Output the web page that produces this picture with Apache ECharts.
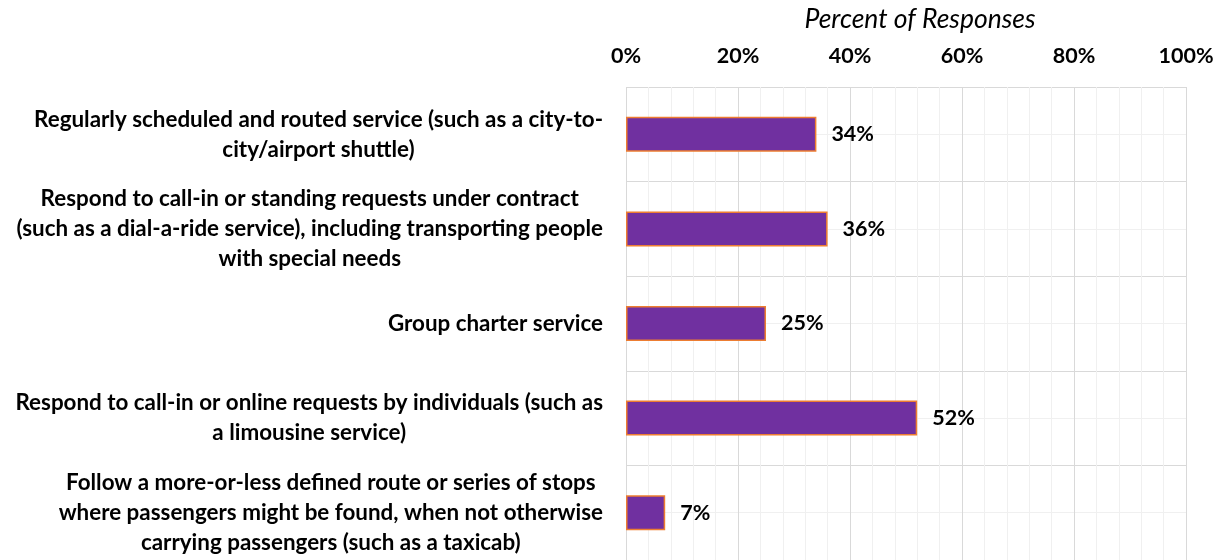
<!DOCTYPE html>
<html>
<head>
<meta charset="utf-8">
<script src="https://cdn.jsdelivr.net/npm/echarts@6/dist/echarts.min.js"></script>
<style>
  html, body { margin: 0; padding: 0; background: #ffffff; }
  #chart { width: 1222px; height: 560px; }
</style>
</head>
<body>
<div id="chart"></div>
<script>
// Service types (top to bottom) and share of responses, in percent
const categories = [
  'Regularly scheduled and routed service (such as a city-to-\ncity/airport shuttle)',
  'Respond to call-in or standing requests under contract\n(such as a dial-a-ride service), including transporting people\nwith special needs',
  'Group charter service',
  'Respond to call-in or online requests by individuals (such as\na limousine service)',
  'Follow a more-or-less defined route or series of stops\nwhere passengers might be found, when not otherwise\ncarrying passengers (such as a taxicab)'
];
const percentValues = [34, 36, 25, 52, 7];
const axisTitle = 'Percent of Responses';

const FONT = 'Lato, "Open Sans", sans-serif';
const FS = 21.5;       // tick and value labels
const FS_CAT = 22.4;   // category labels
const FS_TITLE = 26.5; // axis title

const chart = echarts.init(document.getElementById('chart'), null, { renderer: 'canvas' });

chart.setOption({
  backgroundColor: '#ffffff',
  animation: false,
  title: {
    text: axisTitle,
    left: 920,
    top: 3,
    padding: 0,
    textAlign: 'center',
    textStyle: {
      fontFamily: FONT,
      fontSize: FS_TITLE,
      fontStyle: 'italic',
      fontWeight: 'normal',
      color: '#000000',
      lineHeight: 32
    }
  },
  grid: {
    left: 626,
    top: 87,
    width: 560,
    height: 475,
    containLabel: false
  },
  xAxis: {
    type: 'value',
    position: 'top',
    min: 0,
    max: 100,
    interval: 20,
    axisLine: { show: false },
    axisTick: { show: false },
    axisLabel: {
      formatter: '{value}%',
      margin: 19,
      fontFamily: FONT,
      fontSize: FS,
      fontWeight: 'bold',
      color: '#000000',
      lineHeight: 24
    },
    splitLine: { show: true, lineStyle: { color: '#d9d9d9', width: 1 } },
    minorTick: { show: false, splitNumber: 5 },
    minorSplitLine: { show: true, lineStyle: { color: '#f0f0f0', width: 1 } }
  },
  yAxis: [
    {
      type: 'category',
      inverse: true,
      data: categories,
      axisLine: { show: false },
      axisTick: { show: false },
      splitLine: { show: false },
      axisLabel: {
        margin: 23,
        interval: 0,
        formatter: function (value) {
          return value.split('\n').map(function (s) { return '{c|' + s + '}'; }).join('\n');
        },
        rich: {
          c: {
            align: 'center',
            fontFamily: FONT,
            fontSize: FS_CAT,
            fontWeight: 'bold',
            color: '#000000',
            lineHeight: 30
          }
        }
      }
    },
    {
      // helper axis: band borders (major) and band centre lines (minor)
      type: 'value',
      min: 0,
      max: 10,
      interval: 2,
      axisLine: { show: false },
      axisTick: { show: false },
      axisLabel: { show: false },
      splitLine: { show: true, lineStyle: { color: '#d9d9d9', width: 1 } },
      minorTick: { show: false, splitNumber: 2 },
      minorSplitLine: { show: true, lineStyle: { color: '#f0f0f0', width: 1 } }
    }
  ],
  series: [
    {
      type: 'bar',
      yAxisIndex: 0,
      data: percentValues,
      barWidth: 35,
      itemStyle: {
        color: '#7030A0',
        borderColor: '#ED7D31',
        borderWidth: 1.5
      },
      label: {
        show: true,
        position: 'right',
        distance: 15,
        formatter: '{c}%',
        fontFamily: FONT,
        fontSize: FS,
        fontWeight: 'bold',
        color: '#000000'
      }
    }
  ]
});
</script>
</body>
</html>
